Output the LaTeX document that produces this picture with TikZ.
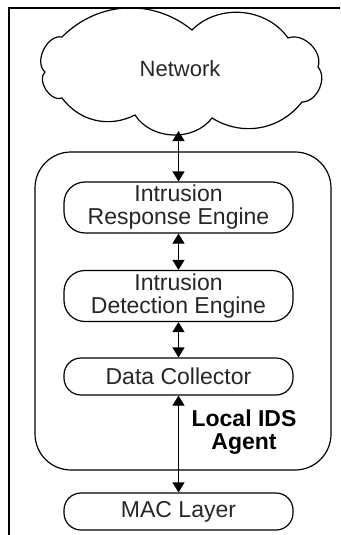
\documentclass[tikz,border=0pt]{standalone}
\usepackage{fontspec}
\setmainfont{Liberation Sans}
\usetikzlibrary{arrows.meta}
\tikzset{
  box/.style={draw, line width=1.2pt, rounded corners=21pt, minimum width=229pt,
    minimum height=51pt, inner sep=0pt, align=center, text=black!85,
    font=\fontsize{23}{23}\selectfont},
  thinbox/.style={box, minimum height=37pt, rounded corners=17pt},
  conn/.style={line width=1.2pt, {Triangle[length=10pt,width=12pt]}-{Triangle[length=10pt,width=12pt]}},
}
\begin{document}
\begin{tikzpicture}[x=1pt,y=-1pt]
\useasboundingbox (0,0) rectangle (340,535);
% frame
\draw[line width=1.8pt] (340,8) -- (9,8) -- (9,535);
% network cloud
\draw[line width=1.2pt] (62,37) to[bend left=42] (192,30) to[bend left=50] (288,38)
  to[bend left=65] (318,67) to[bend left=65] (302,102) to[bend left=42] (212,118)
  to[bend left=55] (135,115) to[bend left=40] (62,98) to[bend left=80] (45,72)
  to[bend left=75] cycle;
\node[text=black!85, font=\fontsize{22}{22}\selectfont] (net) at (180,69) {Network};
\coordinate (netbot) at (178.5,131);
% local agent
\draw[line width=1.2pt, rounded corners=36pt] (35,152) rectangle (331,470);
\node[box] (ire) at (178.5,207.5) {Intrusion\\Response Engine};
\node[box] (ide) at (178.5,296) {Intrusion\\Detection Engine};
\node[thinbox] (dc) at (178.5,376.5) {Data Collector};
\node[align=center, font=\bfseries\fontsize{23}{23}\selectfont] (agent) at (244,432) {Local IDS\\Agent};
\node[thinbox] (mac) at (178.5,511.5) {MAC Layer};
% links
\draw[conn] (netbot) -- (ire.north);
\draw[conn] (ire.south) -- (ide.north);
\draw[conn] (ide.south) -- (dc.north);
\draw[conn] (dc.south) -- (mac.north);
\end{tikzpicture}
\end{document}
